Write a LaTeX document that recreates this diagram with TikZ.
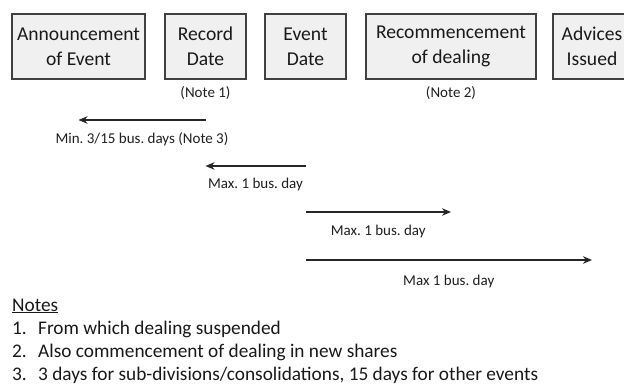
\documentclass[tikz,border=0pt]{standalone}
\usepackage{fontspec}
\setmainfont{Carlito}
\usetikzlibrary{arrows.meta}
\frenchspacing

\begin{document}
\begin{tikzpicture}[x=1pt,y=-1pt,
  evbox/.style={draw=black!75, fill=black!6, line width=1.6pt,
    minimum height=65pt, inner sep=0pt, align=center,
    font=\fontsize{19.6}{25}\selectfont, text=black!90},
  lbl/.style={font=\fontsize{15}{17}\selectfont, text=black!88, inner sep=0pt},
  notetxt/.style={font=\fontsize{19.3}{23}\selectfont, text=black!90, inner sep=0pt, anchor=base west},
  arr/.style={line width=1.4pt, draw=black!85, -{Stealth[length=9pt,width=7.5pt]}},
  ]
\useasboundingbox (0,0) rectangle (624,385);
\clip (0,0) rectangle (624,385);

% event boxes along the timeline
\node[evbox, minimum width=133pt] (b1) at (78.5,46.5) {Announcement\\of Event};
\node[evbox, minimum width=81pt]  (b2) at (205.5,46.5) {Record\\Date};
\node[evbox, minimum width=81pt]  (b3) at (305.5,46.5) {Event\\Date};
\node[evbox, minimum width=170pt] (b4) at (451,46.5) {Recommencement\\of dealing};
\node[evbox, minimum width=78pt]  (b5) at (592,46.5) {Advices\\Issued};

% notes under the boxes
\node[lbl] (n1) at (b2.center |- 0,93) {(Note 1)};
\node[lbl] (n2) at (b4.center |- 0,93) {(Note 2)};

% arrow end points, each below a box centre
\coordinate (a1s) at (b2.center |- 0,120);
\coordinate (a1e) at (b1.center |- 0,120);
\coordinate (a2s) at (b3.center |- 0,166);
\coordinate (a2e) at (b2.center |- 0,166);
\coordinate (a3s) at (b3.center |- 0,212);
\coordinate (a3e) at (b4.center |- 0,212);
\coordinate (a4s) at (b3.center |- 0,260);
\coordinate (a4e) at (b5.center |- 0,260);

\draw[arr] (a1s) -- (a1e) node[lbl, midway, yshift=-19pt] (l1) {Min. 3/15 bus. days (Note 3)};
\draw[arr] (a2s) -- (a2e) node[lbl, midway, yshift=-19pt] (l2) {Max. 1 bus. day};
\draw[arr] (a3s) -- (a3e) node[lbl, midway, yshift=-20pt] (l3) {Max. 1 bus. day};
\draw[arr] (a4s) -- (a4e) node[lbl, midway, yshift=-21pt] (l4) {Max 1 bus. day};

% footnotes
\node[notetxt] (nh) at (12,311) {\underline{Notes}};
\node[notetxt] (k1) at (12,334) {1.};
\node[notetxt] (t1) at (38,334) {From which dealing suspended};
\node[notetxt] (k2) at (12,357) {2.};
\node[notetxt] (t2) at (38,357) {Also commencement of dealing in new shares};
\node[notetxt] (k3) at (12,380) {3.};
\node[notetxt] (t3) at (38,380) {3 days for sub-divisions/consolidations, 15 days for other events};
\end{tikzpicture}
\end{document}
